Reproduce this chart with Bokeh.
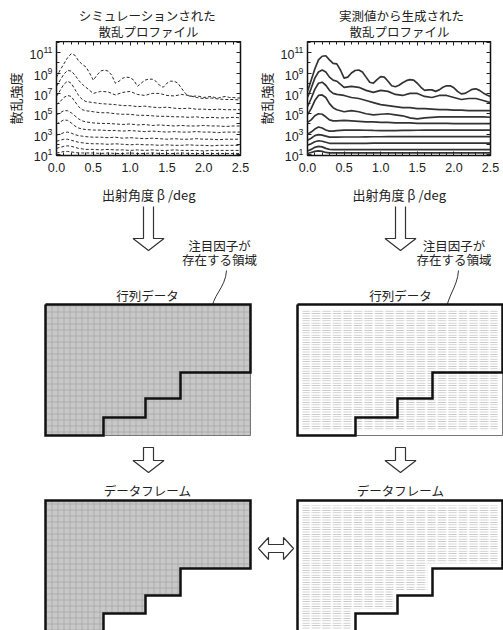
import numpy as np
from bokeh.plotting import figure
from bokeh.layouts import column, row
from bokeh.models import (Range1d, LinearAxis, FixedTicker, LogTickFormatter,
                          NumeralTickFormatter, CustomJSTickFormatter)
from bokeh.core.properties import value
from bokeh.embed import file_html
from bokeh.resources import INLINE

JP = "Noto Sans CJK JP"
NUM = "Liberation Sans"
INK = "#222222"
TXT = "12.5px"

# ---------------- data (log10 of scattering intensity) ----------------
X_FINE = [0.0, 0.05, 0.1, 0.15, 0.2, 0.25, 0.3, 0.35, 0.4, 0.45, 0.5, 0.55, 0.6, 0.65, 0.7, 0.75, 0.8,
          0.85, 0.9, 0.95, 1.0, 1.05, 1.1, 1.15, 1.2, 1.25, 1.3, 1.35, 1.4, 1.45, 1.5, 1.55, 1.6, 1.65,
          1.7, 1.75, 1.8, 1.85, 1.9, 1.95, 2.0, 2.05, 2.1, 2.15, 2.2, 2.25, 2.3, 2.35, 2.4, 2.45, 2.5]
X_COARSE = [0.0, 0.05, 0.1, 0.15, 0.2, 0.25, 0.3, 0.35, 0.4, 0.5, 0.6, 0.7, 0.8, 0.9, 1.0, 1.1, 1.2,
            1.3, 1.4, 1.5, 1.6, 1.7, 1.8, 1.9, 2.0, 2.1, 2.2, 2.3, 2.4, 2.5]

SIM_1 = [8.6, 9.3, 9.9, 10.5, 10.9, 10.75, 10.2, 9.85, 9.6, 9.0, 8.3, 8.8, 9.2, 9.3, 9.2, 8.8, 8.0,
         8.2, 8.5, 8.6, 8.55, 8.3, 7.7, 8.0, 8.3, 8.4, 8.4, 8.2, 7.8, 7.6, 8.0, 8.2, 8.2, 8.0,
         7.5, 7.0, 6.75, 6.7, 6.75, 6.7, 6.6, 6.65, 6.7, 6.6, 6.55, 6.65, 6.7, 6.6, 6.6, 6.55, 6.55]
SIM_2 = [7.7, 8.3, 8.9, 9.25, 9.2, 8.8, 8.3, 7.9, 7.6, 7.0, 7.2, 7.15, 6.85, 7.1, 7.2, 6.9, 6.8,
         7.0, 7.0, 6.8, 6.75, 6.9, 6.8, 6.6, 6.5, 6.55, 6.45, 6.4, 6.4, 6.35]
SIM_3 = [6.7, 7.3, 7.9, 8.2, 8.0, 7.4, 6.8, 6.4, 6.2, 6.1, 6.0, 5.95, 5.9, 5.8, 5.8, 5.7, 5.75,
         5.65, 5.6, 5.65, 5.55, 5.5, 5.55, 5.45, 5.45, 5.4, 5.45, 5.4, 5.4, 5.4]
SIM_4 = [5.9, 6.2, 6.6, 6.8, 6.7, 6.2, 5.7, 5.4, 5.3, 5.2, 5.1, 5.1, 5.0, 4.95, 4.95, 4.85, 4.85,
         4.8, 4.75, 4.75, 4.7, 4.7, 4.65, 4.7, 4.6, 4.65, 4.6, 4.6, 4.65, 4.6]
SIM_5 = [4.9, 5.1, 5.3, 5.3, 5.1, 4.8, 4.5, 4.3, 4.2, 4.1, 4.05, 4.05, 4.0, 3.95, 4.0, 3.9, 3.95,
         3.85, 3.9, 3.85, 3.8, 3.85, 3.8, 3.8, 3.85, 3.8, 3.8, 3.75, 3.8, 3.8]
SIM_6 = [4.0, 4.2, 4.4, 4.35, 4.1, 3.8, 3.6, 3.5, 3.45, 3.4, 3.4, 3.35, 3.35, 3.3, 3.35, 3.3, 3.25,
         3.3, 3.25, 3.2, 3.25, 3.2, 3.2, 3.25, 3.2, 3.2, 3.15, 3.2, 3.2, 3.2]
SIM_7 = [2.9, 3.0, 3.15, 3.2, 3.1, 2.95, 2.85, 2.8, 2.75, 2.7, 2.7, 2.65, 2.7, 2.6, 2.65, 2.6, 2.55,
         2.6, 2.55, 2.5, 2.55, 2.5, 2.5, 2.55, 2.5, 2.5, 2.45, 2.5, 2.5, 2.5]
SIM_8 = [2.3, 2.4, 2.5, 2.5, 2.4, 2.3, 2.2, 2.15, 2.1, 2.05, 2.05, 2.0, 2.05, 2.0, 1.95, 2.0, 1.95,
         1.95, 1.9, 1.95, 1.9, 1.9, 1.95, 1.9, 1.9, 1.85, 1.9, 1.9, 1.9, 1.9]
SIM_9 = [1.6, 1.7, 1.8, 1.85, 1.8, 1.7, 1.6, 1.55, 1.5, 1.5, 1.45, 1.5, 1.45, 1.45, 1.4, 1.45, 1.4,
         1.45, 1.4, 1.4, 1.45, 1.4, 1.4, 1.4, 1.35, 1.4, 1.4, 1.4, 1.4, 1.4]
SIM_10 = [1.15, 1.2, 1.3, 1.3, 1.25, 1.2, 1.15, 1.15, 1.15, 1.15, 1.1, 1.15, 1.1, 1.1, 1.15, 1.1, 1.1,
          1.15, 1.1, 1.1, 1.1, 1.15, 1.1, 1.1, 1.1, 1.1, 1.1, 1.1, 1.1, 1.1]

MEAS_1 = [7.2, 8.3, 9.4, 10.3, 10.65, 10.7, 10.3, 9.95, 9.9, 9.3, 8.5, 8.6, 9.0, 9.25, 9.3, 9.1, 8.6,
          8.1, 8.0, 8.35, 8.65, 8.6, 8.2, 7.75, 7.65, 7.8, 8.05, 8.25, 8.35, 8.3, 8.0, 7.6, 7.3, 7.35,
          7.35, 7.2, 7.35, 7.6, 7.75, 7.75, 7.55, 7.2, 6.95, 7.0, 7.2, 7.4, 7.45, 7.3, 7.05, 6.85, 6.7]
MEAS_2 = [6.6, 7.5, 8.5, 9.1, 9.3, 9.1, 8.6, 8.3, 8.2, 7.6, 7.7, 7.6, 7.3, 7.1, 7.3, 7.2, 6.9,
          6.8, 7.0, 7.0, 6.7, 6.6, 6.8, 6.8, 6.6, 6.4, 6.5, 6.5, 6.3, 6.1]
MEAS_3 = [5.7, 6.5, 7.4, 8.0, 8.1, 7.8, 7.3, 7.0, 6.9, 6.8, 6.6, 6.5, 6.3, 6.1, 5.9, 5.8, 5.7,
          5.6, 5.6, 5.5, 5.5, 5.45, 5.4, 5.4, 5.35, 5.35, 5.3, 5.3, 5.3, 5.3]
MEAS_4 = [4.9, 5.5, 6.3, 6.8, 6.85, 6.6, 6.0, 5.6, 5.4, 5.2, 5.3, 5.2, 5.0, 4.9, 4.95, 5.0, 4.9,
          4.8, 4.6, 4.5, 4.6, 4.65, 4.7, 4.7, 4.7, 4.7, 4.7, 4.7, 4.7, 4.66]
MEAS_5 = [4.15, 4.4, 4.8, 5.0, 4.95, 4.7, 4.4, 4.3, 4.3, 4.35, 4.3, 4.25, 4.2, 4.2, 4.15, 4.15, 4.1,
          4.1, 4.1, 4.05, 4.05, 4.05, 4.05, 4.05, 4.03, 4.03, 4.03, 4.03, 4.03, 4.03]
MEAS_6 = [3.0, 3.2, 3.5, 3.7, 3.6, 3.4, 3.3, 3.3, 3.35, 3.4, 3.4, 3.4, 3.38, 3.36, 3.35, 3.35, 3.35,
          3.36, 3.37, 3.38, 3.39, 3.4, 3.4, 3.4, 3.4, 3.39, 3.39, 3.39, 3.39, 3.39]
MEAS_7 = [2.4, 2.6, 2.85, 2.95, 2.9, 2.8, 2.7, 2.7, 2.7, 2.72, 2.72, 2.72, 2.73, 2.74, 2.74, 2.75, 2.75,
          2.75, 2.75, 2.75, 2.75, 2.75, 2.75, 2.75, 2.75, 2.75, 2.75, 2.75, 2.75, 2.75]
MEAS_8 = [1.9, 2.05, 2.25, 2.35, 2.3, 2.2, 2.1, 2.1, 2.1, 2.1, 2.1, 2.1, 2.1, 2.12, 2.12, 2.12, 2.12,
          2.12, 2.12, 2.12, 2.12, 2.12, 2.12, 2.12, 2.12, 2.12, 2.12, 2.12, 2.12, 2.12]
MEAS_9 = [1.35, 1.5, 1.7, 1.8, 1.75, 1.6, 1.5, 1.48, 1.48, 1.48, 1.48, 1.48, 1.48, 1.48, 1.48, 1.48, 1.48,
          1.48, 1.48, 1.48, 1.48, 1.48, 1.48, 1.48, 1.48, 1.48, 1.48, 1.48, 1.48, 1.48]
MEAS_10 = [1.1, 1.2, 1.3, 1.35, 1.3, 1.2, 1.15, 1.15, 1.15, 1.15, 1.15, 1.15, 1.15, 1.15, 1.15, 1.15, 1.15,
           1.15, 1.15, 1.15, 1.15, 1.15, 1.15, 1.15, 1.15, 1.15, 1.15, 1.15, 1.15, 1.15]

SIM_CURVES = [(X_FINE, SIM_1), (X_COARSE, SIM_2), (X_COARSE, SIM_3), (X_COARSE, SIM_4), (X_COARSE, SIM_5),
              (X_COARSE, SIM_6), (X_COARSE, SIM_7), (X_COARSE, SIM_8), (X_COARSE, SIM_9), (X_COARSE, SIM_10)]
MEAS_CURVES = [(X_FINE, MEAS_1), (X_COARSE, MEAS_2), (X_COARSE, MEAS_3), (X_COARSE, MEAS_4), (X_COARSE, MEAS_5),
               (X_COARSE, MEAS_6), (X_COARSE, MEAS_7), (X_COARSE, MEAS_8), (X_COARSE, MEAS_9), (X_COARSE, MEAS_10)]

X_MAJOR = [0.0, 0.5, 1.0, 1.5, 2.0, 2.5]
X_MINOR = [0.1, 0.2, 0.3, 0.4, 0.6, 0.7, 0.8, 0.9, 1.1, 1.2, 1.3, 1.4, 1.6, 1.7, 1.8, 1.9, 2.1, 2.2, 2.3, 2.4]
Y_MAJOR = [1e1, 1e3, 1e5, 1e7, 1e9, 1e11]
Y_ALL = [1e1, 1e2, 1e3, 1e4, 1e5, 1e6, 1e7, 1e8, 1e9, 1e10, 1e11, 1e12]
Y_LO, Y_HI = 10 ** 0.9, 10 ** 12.1

TITLES_LEFT = ["シミュレーションされた", "散乱プロファイル"]
TITLES_RIGHT = ["実測値から生成された", "散乱プロファイル"]
X_LABEL = "出射角度 β /deg"
Y_LABEL = "散乱強度"

BLANK = "return ''"


def style_ticks(ax):
    ax.axis_line_color = None
    ax.major_tick_in = 4
    ax.major_tick_out = 0
    ax.minor_tick_in = 3
    ax.minor_tick_out = 0
    ax.major_tick_line_color = INK
    ax.minor_tick_line_color = INK


def chart(width, bl, br, curves, dashed):
    p = figure(width=width, height=165, x_range=Range1d(0, 2.5), y_range=Range1d(Y_LO, Y_HI),
               y_axis_type="log", output_backend="svg", toolbar_location=None,
               min_border_left=bl, min_border_right=br, min_border_top=0, min_border_bottom=49)
    p.outline_line_color = "#111111"
    p.outline_line_width = 1.5
    p.grid.visible = False
    xa = p.xaxis[0]
    xa.ticker = FixedTicker(ticks=X_MAJOR, minor_ticks=X_MINOR)
    xa.formatter = NumeralTickFormatter(format="0.0")
    ya = p.yaxis[0]
    ya.ticker = FixedTicker(ticks=Y_MAJOR, minor_ticks=Y_ALL)
    ya.formatter = LogTickFormatter()
    for ax in (xa, ya):
        style_ticks(ax)
        ax.major_label_text_font = NUM
        ax.major_label_text_font_size = "12.5px"
        ax.major_label_text_color = INK
        ax.axis_label_text_font = JP
        ax.axis_label_text_font_style = "normal"
        ax.axis_label_text_font_size = "13px"
        ax.axis_label_text_color = INK
    xa.major_label_standoff = 7
    ya.major_label_standoff = 4
    xa.axis_label = X_LABEL
    xa.axis_label_standoff = 10
    ya.axis_label = Y_LABEL
    ya.axis_label_standoff = 2

    top = LinearAxis(ticker=FixedTicker(ticks=X_MAJOR, minor_ticks=X_MINOR),
                     formatter=CustomJSTickFormatter(code=BLANK))
    right = LinearAxis(ticker=FixedTicker(ticks=Y_ALL),
                       formatter=CustomJSTickFormatter(code=BLANK))
    for ax in (top, right):
        style_ticks(ax)
        ax.major_label_text_font_size = "2px"
        ax.major_label_standoff = 0
    p.add_layout(top, "above")
    p.add_layout(right, "right")

    for xs, ys in curves:
        yv = 10 ** np.array(ys)
        if dashed:
            p.line(xs, yv, line_color="#2a2a2a", line_width=1, line_dash="3 2")
        else:
            p.line(xs, yv, line_color="#333333", line_width=1.7)
    return p


p1 = chart(253, 56, 13, SIM_CURVES, True)
p2 = chart(250, 53, 13, MEAS_CURVES, False)


def canvas(h, ytop, ybot):
    c = figure(width=503, height=h, x_range=Range1d(0, 503), y_range=Range1d(ybot, ytop),
               output_backend="svg", toolbar_location=None,
               x_axis_location=None, y_axis_location=None, min_border=0)
    c.grid.visible = False
    c.outline_line_color = None
    return c


head = canvas(41, 0, 41)
head.text(x=[147, 148, 401, 399], y=[14.5, 31, 14.5, 31],
          text=[TITLES_LEFT[0], TITLES_LEFT[1], TITLES_RIGHT[0], TITLES_RIGHT[1]],
          text_font=value(JP), text_font_size=TXT, text_color=INK,
          text_align="center", text_baseline="middle")

cv = canvas(424, 206, 630)


def down_arrow(cx, y0, yh, yt, sw, hw):
    return ([cx - sw, cx + sw, cx + sw, cx + hw, cx, cx - hw, cx - sw],
            [y0, y0, yh, yh, yt, yh, yh])


for cx in (148, 400):
    ax_, ay_ = down_arrow(cx, 203, 238, 250, 5, 15.5)
    cv.patch(ax_, ay_, fill_color="white", line_color="#333333", line_width=1.2)
    ax_, ay_ = down_arrow(cx, 447, 460, 472, 5, 15.5)
    cv.patch(ax_, ay_, fill_color="white", line_color="#333333", line_width=1.2)

# double arrow
cv.patch([258, 268, 268, 283, 283, 293, 283, 283, 268, 268],
         [548, 537, 544, 544, 537, 548, 559, 552, 552, 559],
         fill_color="white", line_color="#333333", line_width=1.2)

# notes
cv.text(x=[219, 219, 453.5, 453.5], y=[245, 259, 245, 259],
        text=["注目因子が", "存在する領域", "注目因子が", "存在する領域"],
        text_font=value(JP), text_font_size=TXT, text_color=INK,
        text_align="center", text_baseline="middle")
cv.bezier(x0=[226, 458], y0=[270, 270], x1=[211, 445.5], y1=[312, 313],
          cx0=[225, 457], cy0=[288, 287], cx1=[211, 446], cy1=[295, 296],
          line_color="#333333", line_width=1)
cv.scatter(x=[210.8, 445.3], y=[315.5, 316.5], marker="inverted_triangle", size=6,
           color="#333333")

cv.text(x=[147, 400, 147, 400], y=[295, 295, 490, 490],
        text=["行列データ", "行列データ", "データフレーム", "データフレーム"],
        text_font=value(JP), text_font_size=TXT, text_color=INK,
        text_align="center", text_baseline="middle")

GRAY = "#c8c8c8"
HATCH_DARK = "#9c9c9c"

# matrix (left, shaded)
cv.patch([45, 250, 250, 45], [304, 304, 435, 435], fill_color=GRAY,
         hatch_pattern="+", hatch_color=HATCH_DARK, hatch_scale=6, hatch_weight=0.6,
         line_color="#777777", line_width=1)
STAIR_M_L_X = [45, 250, 250, 180, 180, 145, 145, 103, 103, 45, 45]
STAIR_M_L_Y = [304, 304, 372, 372, 398, 398, 417, 417, 435, 435, 304]
cv.line(STAIR_M_L_X, STAIR_M_L_Y, line_color="#111111", line_width=2.5, line_join="miter")

# matrix (right, white with dotted grid)
cv.patch([297, 502, 502, 297], [304, 304, 435, 435], fill_color="white",
         line_color="#777777", line_width=1)
cv.patch([302, 497, 497, 302], [309, 309, 430, 430], fill_color=None,
         hatch_pattern="-", hatch_color="#a0a0a0", hatch_scale=2.4, hatch_weight=0.7, line_color=None)
cv.patch([302, 497, 497, 302], [309, 309, 430, 430], fill_color=None,
         hatch_pattern="|", hatch_color="white", hatch_scale=10.5, hatch_weight=2, line_color=None)
cv.line([x + 252 for x in STAIR_M_L_X], STAIR_M_L_Y, line_color="#111111", line_width=2.5,
        line_join="miter")

# data frames
DF_X = [45, 250, 250, 180, 180, 145, 145, 103, 103, 45]
DF_Y = [500, 500, 568, 568, 595, 595, 613, 613, 640, 640]
cv.patch(DF_X, DF_Y, fill_color=GRAY, hatch_pattern="+", hatch_color=HATCH_DARK,
         hatch_scale=6, hatch_weight=0.6, line_color="#111111", line_width=2.5, line_join="miter")
cv.patch([x + 252 for x in DF_X], DF_Y, fill_color="white", line_color="#111111",
         line_width=2.5, line_join="miter")
IN_X = [302, 497, 497, 427, 427, 392, 392, 350, 350, 302]
IN_Y = [505, 505, 563, 563, 590, 590, 608, 608, 640, 640]
cv.patch(IN_X, IN_Y, fill_color=None, hatch_pattern="-", hatch_color="#a0a0a0",
         hatch_scale=2.4, hatch_weight=0.7, line_color=None)
cv.patch(IN_X, IN_Y, fill_color=None, hatch_pattern="|", hatch_color="white",
         hatch_scale=10.5, hatch_weight=2, line_color=None)

layout = column(head, row(p1, p2), cv)
open("out.html", "w").write(file_html(layout, INLINE))
